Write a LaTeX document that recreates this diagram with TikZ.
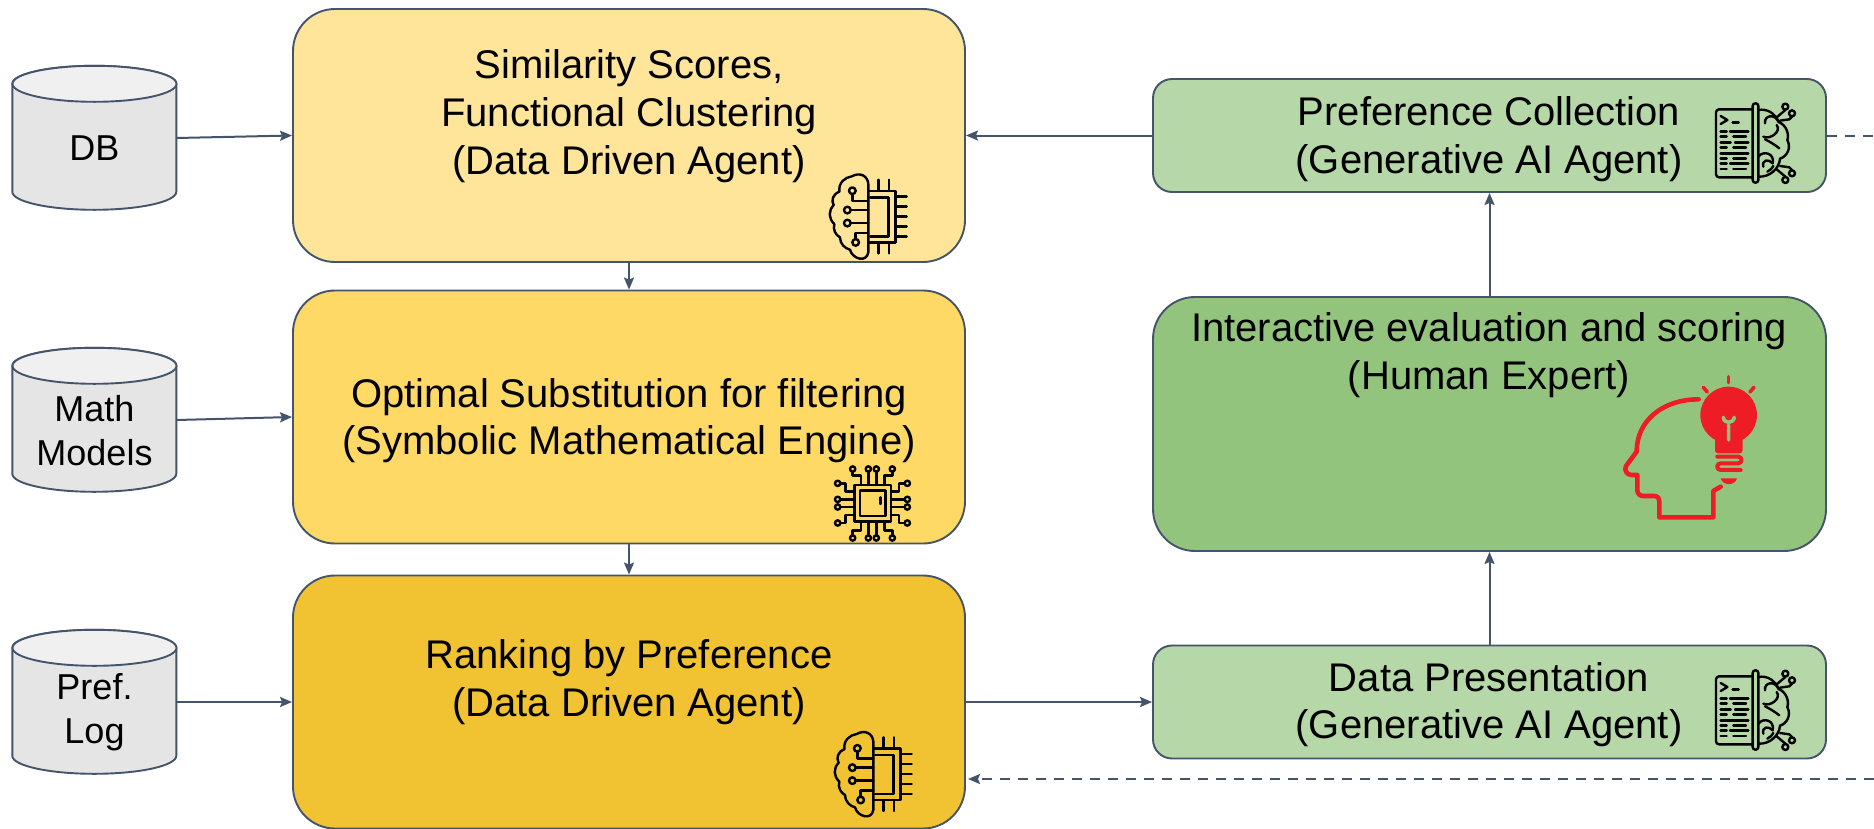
\documentclass[tikz,border=0pt]{standalone}
\usepackage{fontspec}
\setmainfont{Liberation Sans}
\usetikzlibrary{arrows.meta}
\definecolor{edge}{HTML}{44546A}
\definecolor{yA}{HTML}{FFE599}
\definecolor{yB}{HTML}{FFD966}
\definecolor{yC}{HTML}{F1C232}
\definecolor{gA}{HTML}{B6D7A8}
\definecolor{gB}{HTML}{93C47D}
\definecolor{redicon}{HTML}{EE1C25}
\tikzset{
  bigbox/.style={draw=edge,line width=1.9pt,rounded corners=42pt,minimum width=672pt,minimum height=253pt,inner sep=0pt},
  smallbox/.style={draw=edge,line width=1.9pt,rounded corners=19pt,fill=gA,minimum width=673pt,minimum height=113pt,inner sep=0pt},
  dbcyl/.style={minimum width=164pt,minimum height=144pt,inner sep=0pt},
  cylline/.style={draw=edge,line width=1.9pt},
  txt/.style={align=center,font=\fontsize{40}{47.7}\selectfont,text=black,inner sep=0pt},
  cyltxt/.style={align=center,font=\fontsize{36}{44}\selectfont,text=black,inner sep=0pt},
  conn/.style={draw=edge,line width=2pt,-{Stealth[length=12pt,width=10pt,inset=2pt]}},
  dashconn/.style={conn,dash pattern=on 10pt off 8pt},
  ico/.style={line width=2.4pt,draw=black,line cap=round,line join=round},
  redl/.style={line width=4.6pt,draw=redicon,line cap=round,line join=round}
}
\newcommand{\cylbody}[1]{%
 \path[cylline,fill=black!10] (#1.north west) ++(0,18) -- ++(0,108)
   arc[start angle=180,end angle=360,x radius=82,y radius=-18]
   -- ++(0,-108) arc[start angle=0,end angle=180,x radius=82,y radius=-18] -- cycle;
 \path[cylline,fill=black!6] (#1.north) ++(0,18) ellipse[x radius=82,y radius=18];}
\newcommand{\brainchipicon}[2]{%
\begin{scope}[shift={(#1,#2)},x=0.3333pt,y=-0.3333pt,ico]
 \draw (220,125) .. controls (218,100) and (195,88) .. (170,102)
   .. controls (150,105) and (130,120) .. (133,148)
   .. controls (113,155) and (108,175) .. (116,188)
   .. controls (100,205) and (100,228) .. (118,245)
   .. controls (113,262) and (122,278) .. (135,285)
   .. controls (135,305) and (150,318) .. (165,322)
   .. controls (172,350) and (215,362) .. (220,330) -- cycle;
 \draw (220,145) -- (302,145) -- (302,300) -- (220,300);
 \draw (225,165) -- (280,165) -- (280,282) -- (225,282);
 \foreach \p in {250,282}{\draw (\p,112) -- (\p,145); \draw (\p,300) -- (\p,333);}
 \foreach \p in {162,192,222,252,282}{\draw (302,\p) -- (335,\p);}
 \draw (172,145) circle (10); \draw (172,155) -- (172,175) -- (220,175);
 \draw (157,203) circle (10); \draw (167,203) -- (220,203);
 \draw (157,242) circle (10); \draw (167,242) -- (220,242);
 \draw (182,300) circle (10); \draw (182,290) -- (182,272) -- (220,272);
\end{scope}}
\newcommand{\bookbrainicon}[2]{%
\begin{scope}[shift={(#1,#2)},x=0.3333pt,y=-0.3333pt,ico]
 \draw[rounded corners=3pt] (218,148) -- (108,148) -- (108,352) -- (218,352);
 \draw[rounded corners=2.6pt] (218,130) rectangle (235,368);
 \draw (122,168) -- (142,180) -- (122,192);
 \draw (158,188) -- (176,188);
 \draw (122,214) -- (140,214); \draw (150,214) -- (205,214);
 \draw (122,230) -- (140,230); \draw (160,230) -- (198,230);
 \draw (122,247) -- (152,247); \draw (165,247) -- (205,247);
 \draw (122,263) -- (140,263); \draw (160,263) -- (198,263);
 \draw (122,280) -- (205,280);
 \draw (122,296) -- (140,296); \draw (160,296) -- (198,296);
 \draw (122,311) -- (140,311); \draw (150,311) -- (205,311);
 \draw (122,327) -- (140,327); \draw (160,327) -- (198,327);
 \draw (235,150) .. controls (262,145) and (285,160) .. (296,186)
   .. controls (320,195) and (328,225) .. (322,240)
   .. controls (335,265) and (320,290) .. (300,296)
   .. controls (298,325) and (270,352) .. (235,350);
 \draw (255,190) .. controls (252,165) and (285,160) .. (296,186);
 \draw (250,230) .. controls (270,240) and (305,215) .. (290,195);
 \draw (255,238) .. controls (270,245) and (285,255) .. (298,265);
 \draw (235,290) .. controls (250,270) and (285,280) .. (278,310);
 \draw (250,320) .. controls (245,300) and (265,295) .. (278,310);
 \draw (262,335) .. controls (270,330) and (278,325) .. (280,318);
 \draw (290,172) -- (316,150); \draw (316,140) circle (9);
 \draw (300,182) -- (328,178) -- (336,170); \draw (336,160) circle (9);
 \draw (300,318) -- (328,322) -- (336,330); \draw (336,340) circle (9);
 \draw (290,328) -- (316,350); \draw (316,360) circle (9);
\end{scope}}
\newcommand{\chipicon}[2]{%
\begin{scope}[shift={(#1,#2)},x=0.3333pt,y=-0.3333pt,ico]
 \draw (118,75) rectangle (228,185);
 \draw (135,92) rectangle (212,168);
 \draw (197,112) -- (197,132);
 \foreach \p in {160,184}{
   \draw (\p,27) circle (8); \draw (\p,35) -- (\p,75);
   \draw (\p,234) circle (8); \draw (\p,226) -- (\p,185);}
 \foreach \p in {118,141}{
   \draw (68,\p) circle (8); \draw (76,\p) -- (118,\p);
   \draw (277,\p) circle (8); \draw (269,\p) -- (228,\p);}
 \draw (113,27) circle (8); \draw (113,35) -- (113,47) -- (138,47) -- (138,75);
 \draw (232,27) circle (8); \draw (232,35) -- (232,47) -- (208,47) -- (208,75);
 \draw (113,234) circle (8); \draw (113,226) -- (113,212) -- (138,212) -- (138,185);
 \draw (232,234) circle (8); \draw (232,226) -- (232,212) -- (208,212) -- (208,185);
 \draw (68,70) circle (8); \draw (76,70) -- (92,70) -- (92,95) -- (118,95);
 \draw (68,189) circle (8); \draw (76,189) -- (92,189) -- (92,165) -- (118,165);
 \draw (277,70) circle (8); \draw (269,70) -- (252,70) -- (252,95) -- (228,95);
 \draw (277,189) circle (8); \draw (269,189) -- (252,189) -- (252,165) -- (228,165);
\end{scope}}
\newcommand{\experticon}[2]{%
\begin{scope}[shift={(#1,#2)},x=0.3333pt,y=-0.3333pt]
 \draw[redl] (296,118) .. controls (190,118) and (110,180) .. (110,275)
   -- (78,318) .. controls (72,330) and (80,345) .. (95,345) -- (112,345) -- (112,390)
   .. controls (112,402) and (120,408) .. (130,408) -- (162,408)
   .. controls (172,408) and (178,414) .. (178,425) -- (178,472) -- (340,472) -- (340,393) -- (362,380);
 \fill[redicon] (386,165) circle (85);
 \fill[redicon,rounded corners=3pt] (345,215) -- (345,280) -- (428,280) -- (428,215) -- cycle;
 \draw[redl,line width=4pt] (352,290) -- (415,290) .. controls (428,290) and (428,310) .. (415,310)
   -- (362,310) .. controls (348,310) and (348,330) .. (362,330) -- (422,330);
 \fill[redicon] (362,355) -- (411,355) .. controls (405,378) and (368,378) .. (362,355) -- cycle;
 \draw[redl,line width=3.6pt] (386,50) -- (386,68);
 \draw[redl,line width=3.6pt] (310,82) -- (322,96);
 \draw[redl,line width=3.6pt] (462,82) -- (450,96);
 \draw[draw=gB,line width=3.6pt,line cap=round] (386,240) -- (386,195)
   (370,172) .. controls (372,192) and (400,192) .. (403,172);
\end{scope}}
\begin{document}
\begin{tikzpicture}[x=1pt,y=-1pt]
\useasboundingbox (0,0) rectangle (1874,828);
\begin{scope}
\clip (0,0) rectangle (1874,828);
\node[bigbox,fill=yA] (sim) at (629,135.5) {};
\node[bigbox,fill=yB] (opt) at (629,417) {};
\node[bigbox,fill=yC] (rank) at (629,702) {};
\node[smallbox] (coll) at (1489.5,135.5) {};
\node[bigbox,fill=gB,minimum width=673pt,minimum height=254pt] (eval) at (1489.5,424) {};
\node[smallbox] (pres) at (1489.5,702) {};
\node[dbcyl] (db) at (94.5,138) {};
\node[dbcyl] (math) at (94.5,420) {};
\node[dbcyl] (pref) at (94.5,702) {};
\cylbody{db}
\cylbody{math}
\cylbody{pref}
\coordinate (dashA) at (1874,135.5);
\coordinate (dashB) at (1874,779);
\coordinate (dashBend) at (968,779);

\node[txt] (tsim) at (629,116) {Similarity Scores,\\Functional Clustering\\(Data Driven Agent)};
\node[txt] (topt) at (629,420.5) {Optimal Substitution for filtering\\(Symbolic Mathematical Engine)};
\node[txt] (trank) at (629,682) {Ranking by Preference\\(Data Driven Agent)};
\node[txt] (tcoll) at (1489,139) {Preference Collection\\(Generative AI Agent)};
\node[txt] (teval) at (1489,355) {Interactive evaluation and scoring\\(Human Expert)};
\node[txt] (tpres) at (1489,704.5) {Data Presentation\\(Generative AI Agent)};
\node[cyltxt] (tdb) at (94.5,148.5) {DB};
\node[cyltxt] (tmath) at (94.5,431) {Math\\Models};
\node[cyltxt] (tpref) at (94.5,712) {Pref.\\Log};

\draw[conn] (db.east) -- (sim.west);
\draw[conn] (math.east) -- (opt.west);
\draw[conn] (pref.east) -- (rank.west);
\draw[conn] (sim.south) -- (opt.north);
\draw[conn] (opt.south) -- (rank.north);
\draw[conn] (rank.east) -- (pres.west);
\draw[conn] (pres.north) -- (eval.south);
\draw[conn] (eval.north) -- (coll.south);
\draw[conn] (coll.west) -- (sim.east);
\draw[draw=edge,line width=2pt,dash pattern=on 10pt off 8pt] (coll.east) -- (dashA);
\draw[dashconn] (dashB) -- (dashBend);

\brainchipicon{795}{142.4}
\brainchipicon{800}{700}
\chipicon{815}{460}
\bookbrainicon{1680}{60}
\bookbrainicon{1680}{627}
\experticon{1600}{360}
\end{scope}
\end{tikzpicture}
\end{document}
